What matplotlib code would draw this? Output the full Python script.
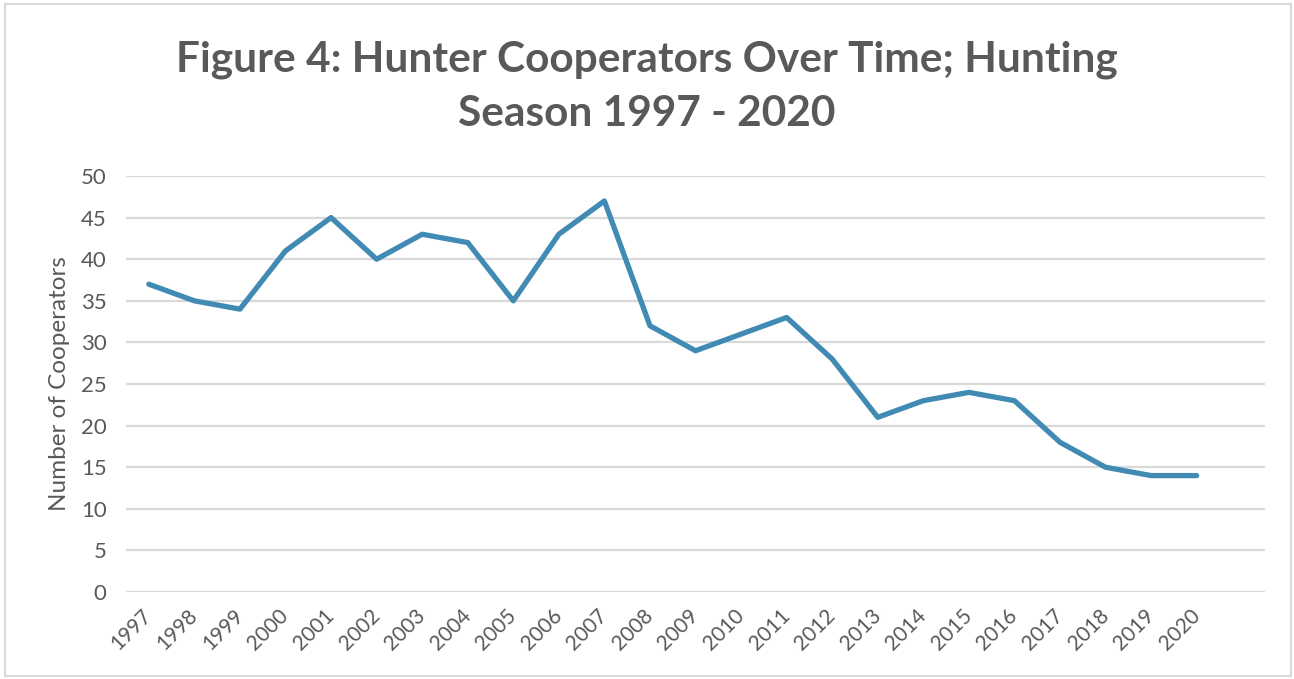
# Hunter cooperators per hunting season, 1997 - 2020
import matplotlib.pyplot as plt
from matplotlib.patches import Rectangle
from matplotlib import rcParams

rcParams['font.family'] = ['Lato', 'DejaVu Sans']

# data
years = ['1997', '1998', '1999', '2000', '2001', '2002', '2003', '2004',
         '2005', '2006', '2007', '2008', '2009', '2010', '2011', '2012',
         '2013', '2014', '2015', '2016', '2017', '2018', '2019', '2020']
cooperators = [37, 35, 34, 41, 45, 40, 43, 42, 35, 43, 47, 32,
               29, 31, 33, 28, 21, 23, 24, 23, 18, 15, 14, 14]

TEXT = '#595959'
GRID = '#D9D9D9'
LINE = '#418AB3'

fig = plt.figure(figsize=(12.94, 6.79), dpi=100)
ax = fig.add_axes([0.0974, 0.128, 0.8802, 0.6128])

x = list(range(len(years)))
ax.plot(x, cooperators, color=LINE, linewidth=3.8,
        solid_capstyle='round', solid_joinstyle='round', zorder=3)

# axes setup
ax.set_xlim(-0.5, len(years) + 0.5)
ax.set_ylim(0, 50)
ax.set_yticks(range(0, 51, 5))
ax.set_xticks(x)
ax.set_xticklabels(years, rotation=45, ha='right', va='center',
                   rotation_mode='anchor')
ax.tick_params(axis='x', length=0, pad=15, labelsize=15, labelcolor=TEXT)
ax.tick_params(axis='y', length=0, pad=14, labelsize=16, labelcolor=TEXT)
ax.grid(axis='y', color=GRID, linewidth=1.6)
ax.set_axisbelow(True)
for s in ax.spines.values():
    s.set_visible(False)

ax.set_ylabel('Number of Cooperators', fontsize=17.5, color=TEXT, labelpad=8)

# title
fig.text(0.5, 0.872, 'Figure 4: Hunter Cooperators Over Time; Hunting\nSeason 1997 - 2020',
         ha='center', va='center', fontsize=30.5, fontweight='bold',
         color=TEXT, linespacing=1.5)

# outer border
fig.patches.append(Rectangle((0.004, 0.004), 0.994, 0.99, transform=fig.transFigure,
                             fill=False, edgecolor='#D9D9D9', linewidth=1.5))

fig.savefig('out.png', dpi=100)
